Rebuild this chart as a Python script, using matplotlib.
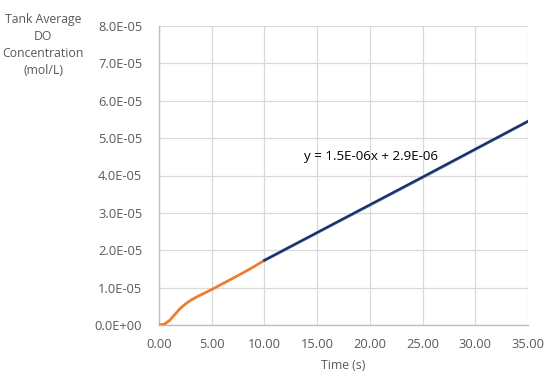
import matplotlib
matplotlib.use("Agg")
import matplotlib.pyplot as plt
from matplotlib.ticker import FuncFormatter

# Data (concentration in mol/L)
t_early = [0, 0.5, 1, 1.5, 2, 2.5, 3, 3.5, 4, 5, 6, 7, 8, 9, 10]
c_early = [0, 0.02e-5, 0.12e-5, 0.28e-5, 0.44e-5, 0.56e-5, 0.66e-5, 0.74e-5,
           0.81e-5, 0.95e-5, 1.10e-5, 1.25e-5, 1.40e-5, 1.56e-5, 1.73e-5]
t_late = [10, 15, 20, 25, 30, 35]
c_late = [1.73e-5, 2.47e-5, 3.21e-5, 3.95e-5, 4.70e-5, 5.45e-5]
trend_x = [10, 35]
trend_y = [1.73e-5, 5.45e-5]
equation = "y = 1.5E-06x + 2.9E-06"
x_ticks = [0, 5, 10, 15, 20, 25, 30, 35]
y_ticks = [0, 1e-5, 2e-5, 3e-5, 4e-5, 5e-5, 6e-5, 7e-5, 8e-5]

plt.rcParams['font.family'] = ['Open Sans', 'DejaVu Sans']
txt = '#595959'

fig = plt.figure(figsize=(5.54, 3.85), dpi=100)
ax = fig.add_axes([159/554, 1-325/385, (528-159)/554, (325-26)/385])

ax.plot(t_early, c_early, color='#ED7D31', lw=2.0, solid_capstyle='round', zorder=3)
ax.plot(t_late, c_late, color='#4472C4', lw=2.2, zorder=3)
ax.plot(trend_x, trend_y, color='#1F2A4E', lw=1.3, zorder=4)

ax.set_xlim(0, 35)
ax.set_ylim(0, 8e-5)
ax.set_xticks(x_ticks)
ax.set_yticks(y_ticks)
ax.xaxis.set_major_formatter(FuncFormatter(lambda v, p: f"{v:.2f}"))
def yfmt(v, p):
    if v == 0:
        return "0.0E+00"
    return f"{v:.1E}"
ax.yaxis.set_major_formatter(FuncFormatter(yfmt))
ax.grid(True, color='#D9D9D9', lw=0.9)
ax.set_axisbelow(True)
for s in ['top', 'right']:
    ax.spines[s].set_visible(False)
for s in ['left', 'bottom']:
    ax.spines[s].set_color('#BFBFBF')
    ax.spines[s].set_linewidth(1.0)
ax.tick_params(length=0, labelsize=9.3, labelcolor=txt, pad=12)
ax.tick_params(axis='x', pad=9)

ax.set_xlabel("Time (s)", fontsize=8.8, color=txt, labelpad=6)
fig.text(43/554, 1-45/385, "Tank Average\nDO\nConcentration\n(mol/L)", ha='center', va='center',
         fontsize=8.8, color=txt, linespacing=1.4)
ax.text(20.1, 4.50e-5, equation, fontsize=9.6, color='black', ha='center', va='center')

fig.savefig("out.png", dpi=100)
